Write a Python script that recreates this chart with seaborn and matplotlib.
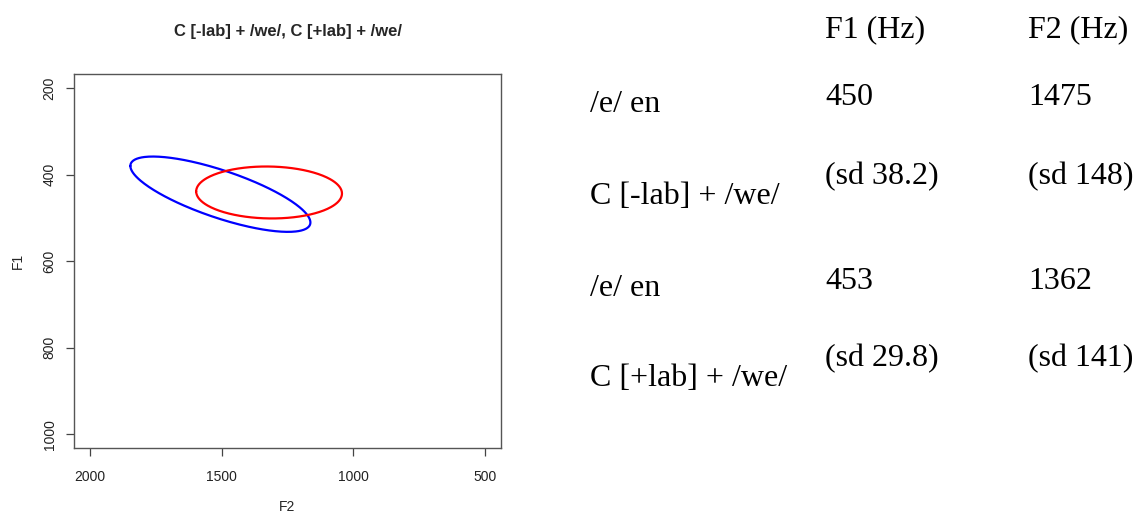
import matplotlib
matplotlib.use("Agg")
import matplotlib.pyplot as plt
import seaborn as sns
import pandas as pd
import numpy as np

## data
groups = ["C [-lab] + /we/", "C [+lab] + /we/"]
ellipse_colors = ["#0000ff", "#ff0000"]
f2_center = [1505, 1320]
f1_center = [445, 441]
f2_radius = [342, 277]
f1_radius = [87, 60]
f1_f2_corr = [-0.75, -0.04]

x_ticks = [2000, 1500, 1000, 500]
y_ticks = [200, 400, 600, 800, 1000]

## table on the right
row_labels = ["/e/ en", "C [-lab] + /we/", "/e/ en", "C [+lab] + /we/"]
col_headers = ["F1 (Hz)", "F2 (Hz)"]
f1_means = ["450", "453"]
f1_sds = ["38.2", "29.8"]
f2_means = ["1475", "1362"]
f2_sds = ["148", "141"]

## build the ellipse outlines
t = np.linspace(0, 2 * np.pi, 300)
frames = []
for i, g in enumerate(groups):
    r = f1_f2_corr[i]
    x = f2_center[i] + f2_radius[i] * np.cos(t)
    y = f1_center[i] + f1_radius[i] * (r * np.cos(t) + np.sqrt(1 - r ** 2) * np.sin(t))
    frames.append(pd.DataFrame({"F2": x, "F1": y, "group": g}))
df = pd.concat(frames, ignore_index=True)

sns.set_style("white")
plt.rcParams["font.family"] = ["Liberation Sans", "DejaVu Sans"]

W, H = 1137, 515
fig = plt.figure(figsize=(W / 100, H / 100), dpi=100)
ax = fig.add_axes([74.3 / W, 1 - 448.3 / H, (500.7 - 74.3) / W, (448.3 - 74.3) / H])

sns.lineplot(data=df, x="F2", y="F1", hue="group", units="group", estimator=None,
             sort=False, palette=ellipse_colors, linewidth=1.6, legend=False, ax=ax)

ax.set_xlim(2060, 440)
ax.set_ylim(1032, 168)
ax.set_xticks(x_ticks)
ax.set_yticks(y_ticks)
ax.set_xticklabels([str(v) for v in x_ticks])
ax.set_yticklabels([str(v) for v in y_ticks], rotation=90, va="center")
ax.tick_params(axis="both", direction="out", length=5.8, width=0.9, color="#444444",
               labelsize=10, labelcolor="#222222", left=True, bottom=True)
ax.tick_params(axis="x", pad=9.5)
ax.tick_params(axis="y", pad=7)
for s in ax.spines.values():
    s.set_color("#555555")
    s.set_linewidth(1.0)

## title sits ~40 px from the top of the image
ax.set_title("C [-lab] + /we/, C [+lab] + /we/", fontsize=12, fontweight="bold",
             y=(448.3 - 40) / (448.3 - 74.3), va="center")

ax.set_xlabel("F2", fontsize=10)
ax.set_ylabel("F1", fontsize=10)
ax.xaxis.label.set_va("center")
ax.yaxis.label.set_va("center")
ax.xaxis.set_label_coords(0.5, (448.3 - 507) / (448.3 - 74.3))
ax.yaxis.set_label_coords((18 - 74.3) / (500.7 - 74.3), 0.5)

## table text, positions in pixels (baseline)
serif = ["Liberation Serif", "DejaVu Serif"]
def put(x, y, s):
    fig.text(x / W, 1 - y / H, s, fontsize=23, family=serif, va="baseline", ha="left", color="black")

put(825, 37, col_headers[0])
put(1028, 37, col_headers[1])

label_y = [112, 204, 296, 386]
for lab, y in zip(row_labels, label_y):
    put(590, y, lab)

mean_y = [105, 289]
sd_y = [184, 366]
for i in range(2):
    put(825, mean_y[i], f1_means[i])
    put(1028, mean_y[i], f2_means[i])
    put(825, sd_y[i], f"(sd {f1_sds[i]})")
    put(1028, sd_y[i], f"(sd {f2_sds[i]})")

fig.savefig("out.png", dpi=100, facecolor="white")
